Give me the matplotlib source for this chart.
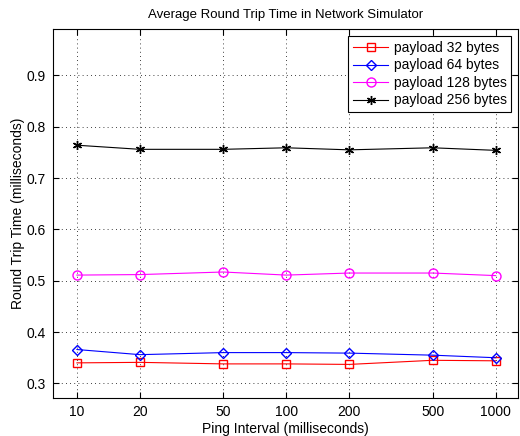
import matplotlib.pyplot as plt
from matplotlib.ticker import FixedLocator, FixedFormatter, NullLocator

plt.rcParams['font.family'] = ['Liberation Sans', 'DejaVu Sans']

# Ping interval (ms)
intervals = [10, 20, 50, 100, 200, 500, 1000]
tick_labels = ['10', '20', '50', '100', '200', '500', '1000']

# Average RTT (ms) per payload size
rtt_32 = [0.340, 0.341, 0.338, 0.338, 0.337, 0.345, 0.344]
rtt_64 = [0.366, 0.356, 0.360, 0.360, 0.359, 0.355, 0.350]
rtt_128 = [0.511, 0.512, 0.517, 0.511, 0.515, 0.515, 0.510]
rtt_256 = [0.764, 0.756, 0.756, 0.759, 0.755, 0.759, 0.754]

fig = plt.figure(figsize=(5.2, 4.36), dpi=100)
ax = fig.add_axes([0.1013, 0.0865, 0.8957, 0.8465])

ax.plot(intervals, rtt_32, color='red', marker='s', markersize=5.5,
        markerfacecolor='none', linewidth=0.8, label='payload 32 bytes')
ax.plot(intervals, rtt_64, color='blue', marker='D', markersize=5.5,
        markerfacecolor='none', linewidth=0.8, label='payload 64 bytes')
ax.plot(intervals, rtt_128, color='magenta', marker='o', markersize=6.5,
        markerfacecolor='none', linewidth=0.8, label='payload 128 bytes')
ax.plot(intervals, rtt_256, color='black', marker=(6, 2, 0), markersize=6.5,
        linewidth=0.8, label='payload 256 bytes')

ax.set_xscale('log')
ax.set_xlim(7.66, 1284)
ax.set_ylim(0.271, 0.99)
ax.xaxis.set_major_locator(FixedLocator(intervals))
ax.xaxis.set_major_formatter(FixedFormatter(tick_labels))
ax.xaxis.set_minor_locator(NullLocator())
ax.set_yticks([0.3, 0.4, 0.5, 0.6, 0.7, 0.8, 0.9])

ax.tick_params(direction='in', top=True, right=True, labelsize=10, length=4, pad=5)
ax.grid(True, linestyle=(0, (1, 4)), color='black', linewidth=0.6)

for s in ax.spines.values():
    s.set_linewidth(0.8)

ax.set_title('Average Round Trip Time in Network Simulator', fontsize=9.5, pad=8)
ax.set_xlabel('Ping Interval (milliseconds)', fontsize=10, labelpad=2)
ax.set_ylabel('Round Trip Time (milliseconds)', fontsize=10, labelpad=1)

leg = ax.legend(loc='upper right', fontsize=10, fancybox=False, framealpha=1,
                edgecolor='black', borderaxespad=0.5, handlelength=2.5,
                labelspacing=0.25, borderpad=0.35, handletextpad=0.4)
leg.get_frame().set_linewidth(0.8)

plt.savefig('out.png', dpi=100)
